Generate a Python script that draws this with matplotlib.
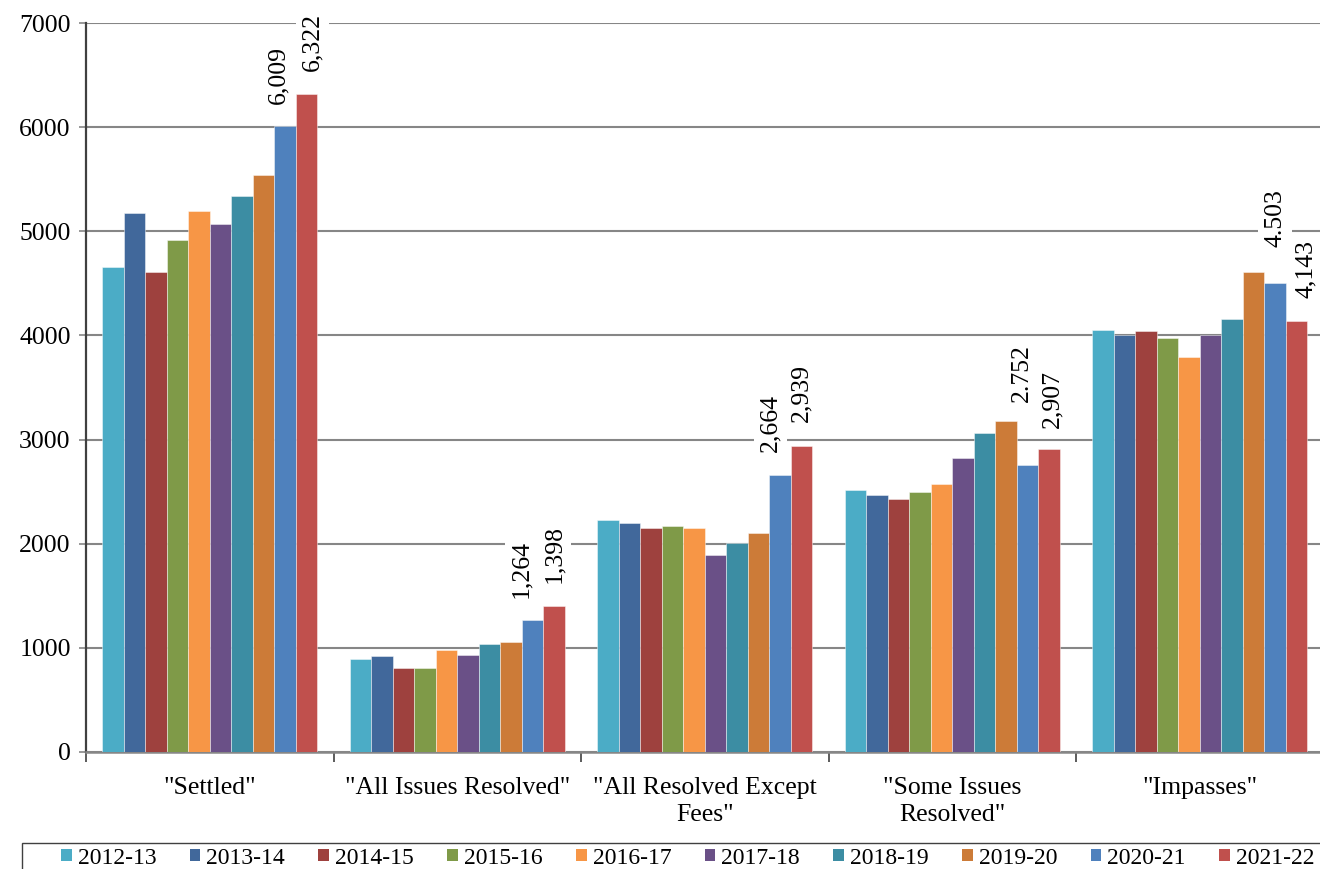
import matplotlib
matplotlib.use("Agg")
import matplotlib.pyplot as plt
from matplotlib.patches import Patch, Rectangle
import numpy as np

plt.rcParams['font.family'] = ['Liberation Serif', 'DejaVu Serif']

categories = ['"Settled"', '"All Issues Resolved"', '"All Resolved Except\nFees"',
              '"Some Issues\nResolved"', '"Impasses"']
years = ['2012-13', '2013-14', '2014-15', '2015-16', '2016-17',
         '2017-18', '2018-19', '2019-20', '2020-21', '2021-22']

# values per year, ordered by category
v2012_13 = [4660, 890, 2225, 2513, 4049]
v2013_14 = [5172, 922, 2196, 2471, 4007]
v2014_15 = [4612, 804, 2151, 2429, 4040]
v2015_16 = [4916, 804, 2167, 2494, 3972]
v2016_17 = [5198, 979, 2154, 2573, 3790]
v2017_18 = [5070, 928, 1895, 2823, 4007]
v2018_19 = [5342, 1034, 2007, 3066, 4158]
v2019_20 = [5540, 1056, 2100, 3178, 4612]
v2020_21 = [6009, 1264, 2664, 2752, 4503]
v2021_22 = [6322, 1398, 2939, 2907, 4143]
series = [v2012_13, v2013_14, v2014_15, v2015_16, v2016_17,
          v2017_18, v2018_19, v2019_20, v2020_21, v2021_22]

colors = ['#4BACC6', '#41689B', '#9E413E', '#7F9A48', '#F79646',
          '#6A5087', '#3C8DA3', '#CC7B38', '#4F81BD', '#C0504D']

# value labels: (series index, category index, text, dx pt, dy pt)
labels = [
    (8, 0, '6,009', -5, 16), (9, 0, '6,322', 4, 16),
    (8, 1, '1,264', -8, 16), (9, 1, '1,398', 0, 17),
    (8, 2, '2,664', -7, 16), (9, 2, '2,939', 0, 17),
    (8, 3, '2.752', -4, 46), (9, 3, '2,907', 2, 15),
    (8, 4, '4.503', 0, 26), (9, 4, '4,143', 7, 16),
]

W, H = 1320, 869
fig = plt.figure(figsize=(W / 100, H / 100), dpi=100)
ax = fig.add_axes([86 / W, 1 - 752 / H, 1237.5 / W, (752 - 23) / H])

n = len(series)
group_w = 0.87
bw = group_w / n
x = np.arange(len(categories))
for i, (vals, c) in enumerate(zip(series, colors)):
    pos = x - group_w / 2 + bw * (i + 0.5)
    ax.bar(pos, vals, width=bw, color=c, edgecolor=(1, 1, 1, 0.45),
           linewidth=0.7, zorder=3, label=years[i])

for si, ci, txt, dx, dy in labels:
    xpos = ci - group_w / 2 + bw * (si + 0.5)
    ax.annotate(txt, (xpos, series[si][ci]), xytext=(dx, dy),
                textcoords='offset points', rotation=90, ha='center',
                va='bottom', fontsize=18.5, zorder=5,
                bbox=dict(boxstyle='square,pad=0.22', fc='white', ec='none'))

ax.set_xlim(-0.5, 4.5)
ax.set_ylim(0, 7000)
ax.set_yticks(range(0, 7001, 1000))
ax.tick_params(axis='y', labelsize=18.5, length=5, width=1.2,
               color='#868686', pad=6)
ax.yaxis.grid(True, color='#868686', linewidth=1.5, zorder=0)
ax.set_axisbelow(True)

ax.set_xticks(x)
ax.set_xticklabels(categories, fontsize=18.5, linespacing=1.3)
ax.tick_params(axis='x', length=0, pad=18)
ax.set_xticks(np.arange(-0.5, 4.6, 1), minor=True)
ax.tick_params(axis='x', which='minor', length=7, width=1.2, color='#404040')

for s in ['top', 'right']:
    ax.spines[s].set_visible(False)
ax.spines['left'].set_color('#404040')
ax.spines['left'].set_linewidth(1.6)
ax.spines['bottom'].set_color('#868686')
ax.spines['bottom'].set_linewidth(1.8)

# legend frame and entries along the bottom edge
fig.patches.append(Rectangle((22 / W, -0.05), 1.05, 1 - 843 / H + 0.05,
                             transform=fig.transFigure, fill=False,
                             edgecolor='#404040', linewidth=1.0))
handles = [Patch(facecolor=c, edgecolor='none') for c in colors]
fig.legend(handles, years, loc='center left',
           bbox_to_anchor=(61 / W, 1 - 858 / H), ncol=n, frameon=False,
           fontsize=17, handlelength=0.45, handleheight=0.45,
           handletextpad=0.25, columnspacing=1.42, borderpad=0,
           borderaxespad=0)

fig.savefig('out.png', dpi=100)
